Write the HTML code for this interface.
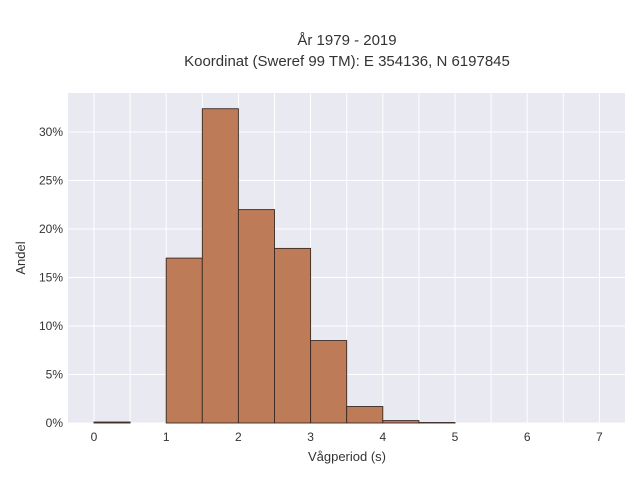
<!DOCTYPE html>
<html><head><meta charset="utf-8"><style>
body{margin:0;background:#fff;font-family:"Liberation Sans",sans-serif;}
svg text{font-family:"Liberation Sans",sans-serif;fill:#333;}
</style></head><body>
<svg id="c" width="640" height="480">
<text x="347" y="45" text-anchor="middle" font-size="15">År 1979 - 2019</text>
<text x="347" y="66" text-anchor="middle" font-size="15">Koordinat (Sweref 99 TM): E 354136, N 6197845</text>
<rect x="68" y="93" width="557" height="330" fill="#e8e9f1"/>
<g id="grid"></g><g id="bars"></g><g id="ticks"></g>
<text x="347" y="461" text-anchor="middle" font-size="13">Vågperiod (s)</text>
<text transform="translate(25,258) rotate(-90)" text-anchor="middle" font-size="13">Andel</text>
</svg>
<script>
const binStarts=[0,0.5,1,1.5,2,2.5,3,3.5,4,4.5];
const binShares=[0.1,0,17,32.4,22,18,8.5,1.7,0.25,0.05];
const xTicks=[0,1,2,3,4,5,6,7];
const yTicks=[0,5,10,15,20,25,30];
const binWidth=0.5;
const NS="http://www.w3.org/2000/svg";
const X=v=>94+v*72.2, Y=v=>423-v*9.7;
function mk(tag,attrs,parent){const e=document.createElementNS(NS,tag);for(const k in attrs)e.setAttribute(k,attrs[k]);document.getElementById(parent).appendChild(e);return e;}
for(let v=0;v<=7;v+=0.5){const l=mk('line',{x1:X(v),x2:X(v),y1:93,y2:423,stroke:'#fff','stroke-width':1},'grid');

}
yTicks.forEach(t=>{const l=mk('line',{x1:68,x2:625,y1:Y(t),y2:Y(t),stroke:'#fff','stroke-width':1},'grid');


const tx=mk('text',{x:63,y:Y(t)+4,'text-anchor':'end','font-size':12},'ticks');tx.textContent=t+'%';

});
xTicks.forEach(t=>{const tx=mk('text',{x:X(t),y:441,'text-anchor':'middle','font-size':12},'ticks');tx.textContent=t;

});
binStarts.forEach((s,i)=>{const v=binShares[i];if(v<=0)return;
const r=mk('rect',{x:X(s),y:Y(v),width:X(s+binWidth)-X(s),height:Y(0)-Y(v),fill:'#bd7b58',stroke:'#3a2a22','stroke-width':0.9},'bars');

});
</script>
</body></html>
